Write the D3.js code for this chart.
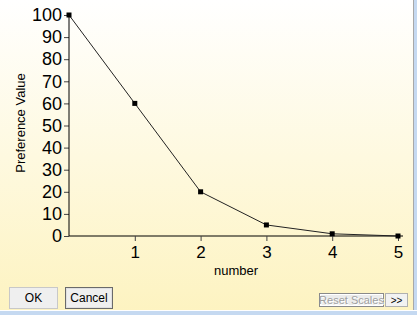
<!DOCTYPE html>
<html><head><meta charset="utf-8">
<script src="https://cdn.jsdelivr.net/npm/d3@7"></script>
<style>
html,body{margin:0;padding:0;overflow:hidden;background:#fff;}
svg{display:block;font-family:"Liberation Sans",Arial,sans-serif;}
</style></head>
<body>
<svg id="c" width="417" height="315"></svg>
<script>
const xValues = [0, 1, 2, 3, 4, 5];
const prefValues = [100, 60, 20, 5, 1, 0];
const xTickLabels = [1, 2, 3, 4, 5];
const yTickLabels = [0, 10, 20, 30, 40, 50, 60, 70, 80, 90, 100];
const xTitle = "number";
const yTitle = "Preference Value";

const svg = d3.select("#c");
const defs = svg.append("defs");
const g = defs.append("linearGradient").attr("id","bg").attr("x1",0).attr("y1",0).attr("x2",0).attr("y2",1);
g.append("stop").attr("offset","0%").attr("stop-color","#ffffff");
g.append("stop").attr("offset","100%").attr("stop-color","#fdf3c0");
svg.append("rect").attr("width",417).attr("height",315).attr("fill","url(#bg)");

// window borders
svg.append("rect").attr("x",413).attr("y",0).attr("width",1).attr("height",315).attr("fill","#a8a8a8");
svg.append("rect").attr("x",414).attr("y",0).attr("width",3).attr("height",315).attr("fill","#c5d9f1");
svg.append("rect").attr("x",0).attr("y",310).attr("width",417).attr("height",1).attr("fill","#ffffff");
svg.append("rect").attr("x",0).attr("y",311).attr("width",417).attr("height",4).attr("fill","#c5d9f1");

const x = d3.scaleLinear().domain([0,5]).range([69,398]);
const y = d3.scaleLinear().domain([0,100]).range([236,15]);

// x axis
const xAxisG = svg.append("g").attr("transform","translate(0,236)");
xAxisG.append("line").attr("x1",69).attr("x2",403).attr("y1",0).attr("y2",0).attr("stroke","#000");
xAxisG.call(d3.axisBottom(x).tickValues(d3.range(0,5.01,0.25)).tickSize(3).tickFormat(""))
  .call(a=>a.select(".domain").remove());
xAxisG.call(d3.axisBottom(x).tickValues(xTickLabels).tickSize(5).tickPadding(5).tickFormat(d3.format("d")))
  .call(a=>a.select(".domain").remove());
xAxisG.selectAll(".tick line").attr("stroke","#444");
xAxisG.selectAll("text").attr("font-size",17).attr("fill","#000").attr("font-family","Liberation Sans, Arial, sans-serif");

// y axis
const yAxisG = svg.append("g").attr("transform","translate(69,0)");
yAxisG.call(d3.axisLeft(y).tickValues(d3.range(0,100.1,2)).tickSize(3).tickFormat(""))
  .call(a=>a.select(".domain").remove());
yAxisG.call(d3.axisLeft(y).tickValues(yTickLabels).tickSize(5).tickPadding(2).tickFormat(d3.format("d")))
  .call(a=>a.select(".domain").remove());
yAxisG.append("line").attr("x1",0).attr("x2",0).attr("y1",y(100)).attr("y2",236).attr("stroke","#000");
yAxisG.selectAll(".tick line").attr("stroke","#444");
yAxisG.selectAll("text").attr("font-size",18).attr("fill","#000").attr("font-family","Liberation Sans, Arial, sans-serif");

// line
const pts = xValues.map((v,i)=>[v,prefValues[i]]);
svg.append("path").datum(pts)
  .attr("d", d3.line().x(d=>x(d[0])).y(d=>y(d[1])))
  .attr("fill","none").attr("stroke","#222").attr("stroke-width",1);
svg.selectAll("rect.mk").data(pts).enter().append("rect").attr("class","mk")
  .attr("x",d=>x(d[0])-2.5).attr("y",d=>y(d[1])-2.5).attr("width",5).attr("height",5).attr("fill","#000");

// titles
svg.append("text").attr("transform","translate(25,123) rotate(-90)").attr("text-anchor","middle")
  .attr("font-size",13).attr("fill","#000").text(yTitle);
svg.append("text").attr("x",236).attr("y",275).attr("text-anchor","middle")
  .attr("font-size",13).attr("fill","#000").text(xTitle);

// buttons
function button(x0,y0,w,h,label,opts){
  const b = svg.append("g");
  b.append("rect").attr("x",x0+0.5).attr("y",y0+0.5).attr("width",w-1).attr("height",h-1)
    .attr("fill",opts.fill||"#efefef").attr("stroke",opts.stroke||"#adadad");
  if(opts.inner) b.append("rect").attr("x",x0+1.5).attr("y",y0+1.5).attr("width",w-3).attr("height",h-3)
    .attr("fill","none").attr("stroke",opts.inner);
  if(opts.shadow) b.append("text").attr("x",x0+w/2+1).attr("y",y0+h/2+1).attr("dy","0.35em").attr("text-anchor","middle")
    .attr("font-size",opts.fs||12).attr("fill","#fff").text(label);
  b.append("text").attr("x",x0+w/2).attr("y",y0+h/2).attr("dy","0.35em").attr("text-anchor","middle")
    .attr("font-size",opts.fs||12).attr("fill",opts.color||"#000").text(label);
}
button(9,287,49,22,"OK",{stroke:"#c8c8c8"});
button(65,287,48,22,"Cancel",{stroke:"#6a6a6a",inner:"#e0e0e0"});
button(319,293,65,14,"Reset Scales",{stroke:"#8a8a8a",fill:"#ececec",color:"#a0a0a0",shadow:true,fs:11,inner:"#ffffff"});
button(385,293,23,14,">>",{stroke:"#b0b0b0",fill:"#f2f2f2",fs:10});
</script>
</body></html>
